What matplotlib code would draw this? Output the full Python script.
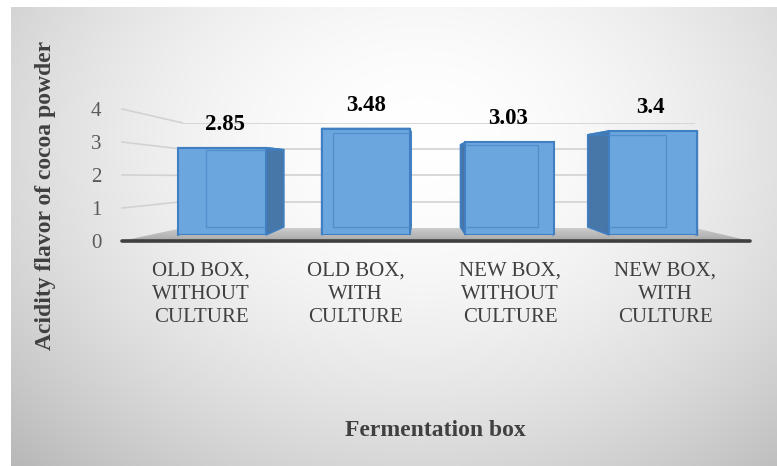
import numpy as np
import matplotlib
matplotlib.use("Agg")
import matplotlib.pyplot as plt
from matplotlib.patches import Polygon
from matplotlib.lines import Line2D
from matplotlib.transforms import IdentityTransform

# ---- data ----
categories = ["OLD BOX,\nWITHOUT\nCULTURE", "OLD BOX,\nWITH\nCULTURE",
              "NEW BOX,\nWITHOUT\nCULTURE", "NEW BOX,\nWITH\nCULTURE"]
acidity = [2.85, 3.48, 3.03, 3.4]
y_ticks = [0, 1, 2, 3, 4]
y_title = "Acidity flavor of cocoa powder"
x_title = "Fermentation box"

SERIF = ["Liberation Serif", "DejaVu Serif"]
plt.rcParams["font.family"] = SERIF

W, H = 777, 466
fig = plt.figure(figsize=(W / 100, H / 100), dpi=100)
fig.patch.set_facecolor("white")


def box(x0, y_top, x1, y_bot):
    """Pixel box (origin top-left) -> figure-fraction rect."""
    return [x0 / W, 1 - y_bot / H, (x1 - x0) / W, (y_bot - y_top) / H]


def to_px(p):
    """Display coords -> pixel coords with origin top-left."""
    return p[0], H - p[1]


# ---- background panel with radial gradient ----
ax_bg = fig.add_axes([0, 0, 1, 1], zorder=0)
ax_bg.set_xlim(0, W)
ax_bg.set_ylim(H, 0)
ax_bg.axis("off")
px0, py0 = 11, 7
yy, xx = np.mgrid[py0:H, px0:W].astype(float)
r = np.sqrt(((xx - 420) / 430) ** 2 + ((yy - 140) / 330) ** 2)
g = np.clip(1 - 0.16 * r ** 1.8, 0.72, 1.0)
ax_bg.imshow(np.dstack([g, g, g]), extent=(px0, W, H, py0),
             interpolation="bilinear", aspect="auto", zorder=0)

# ---- back wall (gridlines) ----
ax_wall = fig.add_axes(box(182, 122.8, 695, 228), zorder=1)
ax_wall.set_xlim(0, 1)
ax_wall.set_ylim(0, 4)
ax_wall.axis("off")
ax_wall.patch.set_visible(False)
ax_wall.hlines(y_ticks[1:], 0, 1, colors="#d2d2d2", lw=1.2)

# ---- front plane: value axis and category axis ----
ax = fig.add_axes(box(123.6, 109, 742.4, 241), zorder=2)
ax.set_xlim(-0.5, 3.5)
ax.set_ylim(0, 4)
ax.patch.set_visible(False)
for s in ax.spines.values():
    s.set_visible(False)
ax.set_yticks(y_ticks)
ax.set_yticklabels([str(t) for t in y_ticks], fontsize=15, color="#595959")
ax.set_xticks(range(len(categories)))
ax.set_xticklabels(categories, fontsize=15, color="#404040", linespacing=1.3,
                   va="top")
ax.tick_params(axis="y", length=0, pad=16)
ax.tick_params(axis="x", length=0, pad=15)

x_left, x_right = -0.51, 3.55

# side wall gridlines connecting front plane to back wall
for v in y_ticks[1:]:
    fx, fy = ax.transData.transform((x_left, v))
    bx, by = ax_wall.transData.transform((0, v))
    fig.add_artist(Line2D([fx, bx], [fy, by], color="#d2d2d2", lw=1.2,
                          transform=IdentityTransform(), zorder=1))

# floor with a soft gradient
fl = to_px(ax.transData.transform((x_left, 0)))
fr = to_px(ax.transData.transform((x_right, 0)))
br = to_px(ax_wall.transData.transform((1, 0)))
bl = to_px(ax_wall.transData.transform((0, 0)))
floor = Polygon([fl, fr, br, bl], closed=True, facecolor="none",
                edgecolor="none")
ax_bg.add_patch(floor)
fgrad = np.linspace(0.80, 0.66, 32)[:, None] * np.ones((1, 4))
fimg = ax_bg.imshow(np.dstack([fgrad, fgrad, fgrad]),
                    extent=(fl[0], fr[0], fl[1], bl[1]),
                    interpolation="bilinear", aspect="auto", zorder=1)
fimg.set_clip_path(floor)

# axis base line
ax.plot([x_left, x_right], [0, 0], color="#3f3f3f", lw=2.6,
        solid_capstyle="round", clip_on=False, zorder=5)

# axis titles
fig.text(46 / W, 1 - 195 / H, y_title, rotation=90, ha="center", va="center",
         fontsize=17, fontweight="bold", color="#404040")
fig.text(435 / W, 1 - 430 / H, x_title, ha="center", va="center",
         fontsize=17, fontweight="bold", color="#404040")

# ---- bars (front faces on their own plane, with perspective depth) ----
ax_bar = fig.add_axes(box(150, 112.6, 725.2, 235), zorder=3)
ax_bar.set_xlim(-0.5, 3.5)
ax_bar.set_ylim(0, 4)
ax_bar.axis("off")
ax_bar.patch.set_visible(False)

front_col = "#6ba6de"
edge_col = "#3f7fc2"
side_col = "#4776a8"
vp = np.array([422.0, H - 165.0])   # vanishing point (display coords)
depth = 0.885

bars = ax_bar.bar(range(len(acidity)), acidity, width=0.612,
                  color=front_col, edgecolor=edge_col, lw=1.5, zorder=4)

for i, (rect, v) in enumerate(zip(bars, acidity)):
    x0, y0 = rect.get_x(), rect.get_y()
    w, h = rect.get_width(), rect.get_height()
    tr = ax_bar.transData
    FL_b = tr.transform((x0, y0))
    FR_b = tr.transform((x0 + w, y0))
    FR_t = tr.transform((x0 + w, y0 + h))
    FL_t = tr.transform((x0, y0 + h))
    back = [vp + depth * (p - vp) for p in (FL_b, FR_b, FR_t, FL_t)]
    BL_b, BR_b, BR_t, BL_t = back
    for quad in ([FR_t, BR_t, BR_b, FR_b], [FL_t, BL_t, BL_b, FL_b],
                 [FL_t, FR_t, BR_t, BL_t]):
        ax_bar.add_patch(Polygon(quad, closed=True, facecolor=side_col,
                                 edgecolor=edge_col, lw=1.2,
                                 transform=IdentityTransform(),
                                 clip_on=False, zorder=2))
    inner = Polygon(back, closed=True, fill=False, edgecolor="#4f8ccc",
                    lw=1.0, alpha=0.85, transform=IdentityTransform(),
                    zorder=5)
    ax_bar.add_patch(inner)
    inner.set_clip_path(rect)

    # value label above the bar
    cx = (FL_t[0] + FR_t[0]) / 2
    dx = (vp[0] - cx) * 0.014
    ax_bar.annotate(str(v), xy=(i, v), xytext=(dx * 0.72, 23.5 * 0.72),
                    textcoords="offset points", ha="center", va="center",
                    fontsize=16.5, fontweight="bold", color="black",
                    zorder=6)

fig.savefig("out.png", dpi=100)
